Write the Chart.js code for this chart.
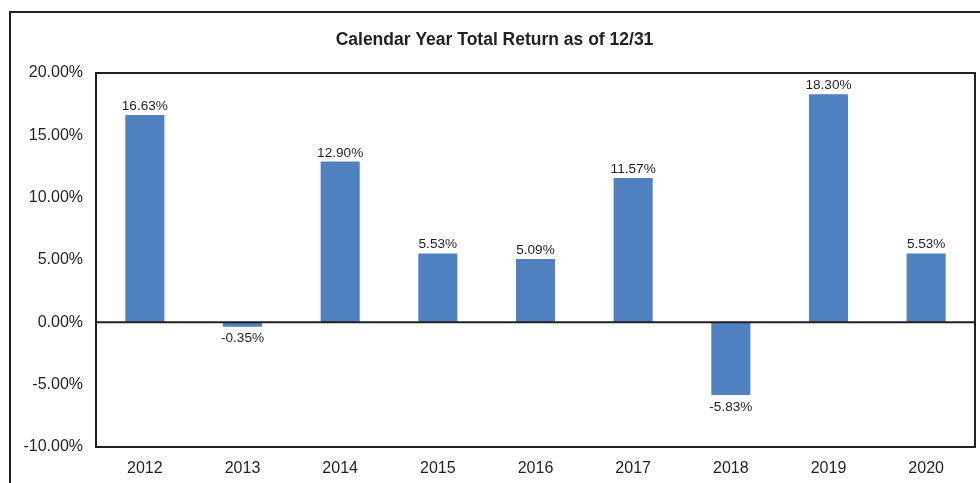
<!DOCTYPE html>
<html>
<head>
<meta charset="utf-8">
<script src="https://cdn.jsdelivr.net/npm/chart.js@4"></script>
<style>
    html, body { margin: 0; padding: 0; background: #fff; overflow: hidden; }
    #wrap { position: relative; width: 980px; height: 483px; }
    #frame {
        position: absolute; left: 9px; top: 11px; width: 1000px; height: 500px;
        border-left: 2px solid #231f20; border-top: 2px solid #231f20;
    }
    canvas { position: absolute; left: 0; top: 0; }
</style>
</head>
<body>
<div id="wrap">
    <div id="frame"></div>
    <canvas id="chart" width="980" height="483"></canvas>
</div>
<script>
// dados do gráfico
const years = ["2012", "2013", "2014", "2015", "2016", "2017", "2018", "2019", "2020"];
const returns = [16.63, -0.35, 12.90, 5.53, 5.09, 11.57, -5.83, 18.30, 5.53];
const yTicks = [20, 15, 10, 5, 0, -5, -10];

const INK = "#231f20";
const FONT = "'Liberation Sans', Arial, sans-serif";

// plugin: borda da área do gráfico + linha do zero + rótulos dos valores
const boxAndLabels = {
    id: "boxAndLabels",
    afterDatasetsDraw(chart) {
        const ctx = chart.ctx;
        const a = chart.chartArea;
        ctx.save();
        ctx.strokeStyle = INK;
        ctx.lineWidth = 2;
        ctx.strokeRect(a.left, a.top, a.right - a.left, a.bottom - a.top);

        const y0 = chart.scales.y.getPixelForValue(0);
        ctx.beginPath();
        ctx.moveTo(a.left, y0);
        ctx.lineTo(a.right, y0);
        ctx.stroke();

        ctx.fillStyle = INK;
        ctx.font = "13.6px " + FONT;
        ctx.textAlign = "center";
        const meta = chart.getDatasetMeta(0);
        meta.data.forEach((bar, i) => {
            const v = returns[i];
            const txt = v.toFixed(2) + "%";
            if (v >= 0) {
                ctx.textBaseline = "alphabetic";
                ctx.fillText(txt, bar.x, bar.y - 5);
            } else {
                ctx.textBaseline = "top";
                ctx.fillText(txt, bar.x, bar.y + 5);
            }
        });
        ctx.restore();
    }
};

const ctx = document.getElementById("chart").getContext("2d");
new Chart(ctx, {
    type: "bar",
    data: {
        labels: years,
        datasets: [{
            data: returns,
            backgroundColor: "#4f81c1",
            borderWidth: 0,
            categoryPercentage: 1,
            barPercentage: 0.4
        }]
    },
    options: {
        responsive: false,
        animation: false,
        layout: { padding: { left: 14, right: 5, top: 0, bottom: 0 } },
        plugins: {
            legend: { display: false },
            tooltip: { enabled: false },
            title: {
                display: true,
                text: "Calendar Year Total Return as of 12/31",
                color: INK,
                font: { family: FONT, size: 17.5, weight: "bold" },
                padding: { top: 30, bottom: 22 }
            }
        },
        scales: {
            x: {
                grid: { display: false, drawTicks: false },
                border: { display: false },
                ticks: {
                    color: INK,
                    padding: 12,
                    maxRotation: 0,
                    font: { family: FONT, size: 16 }
                },
                afterFit(scale) { scale.height = 36; }
            },
            y: {
                min: -10,
                max: 20,
                afterBuildTicks(scale) {
                    scale.ticks = yTicks.map(v => ({ value: v }));
                },
                grid: { display: false, drawTicks: false },
                border: { display: false },
                ticks: {
                    color: INK,
                    padding: 13,
                    font: { family: FONT, size: 16 },
                    callback: (v) => v.toFixed(2) + "%"
                },
                afterFit(scale) { scale.width = 82; }
            }
        }
    },
    plugins: [boxAndLabels]
});
</script>
</body>
</html>
